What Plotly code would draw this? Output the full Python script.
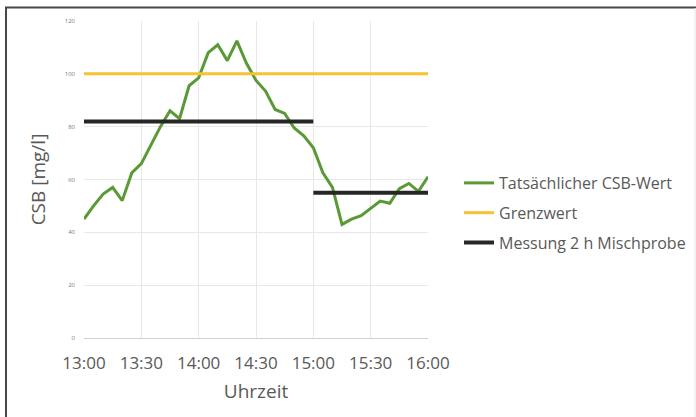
import plotly.graph_objects as go

times = ["13:00", "13:05", "13:10", "13:15", "13:20", "13:25", "13:30", "13:35", "13:40",
         "13:45", "13:50", "13:55", "14:00", "14:05", "14:10", "14:15", "14:20", "14:25",
         "14:30", "14:35", "14:40", "14:45", "14:50", "14:55", "15:00", "15:05", "15:10",
         "15:15", "15:20", "15:25", "15:30", "15:35", "15:40", "15:45", "15:50", "15:55", "16:00"]
csb_actual = [45, 50, 54.5, 57, 52, 62.5, 66, 73, 80,
              86, 83, 95.5, 98.5, 108, 111, 105, 112.5, 104,
              97.5, 93.5, 86.5, 85, 79.5, 76.5, 72, 62.5, 57,
              43, 45, 46.3, 49, 51.8, 51, 56.5, 58.5, 55.5, 61]
limit_times = ["13:00", "16:00"]
limit_values = [100, 100]
sample_times = ["13:00", "15:00", None, "15:00", "16:00"]
sample_values = [82, 82, None, 55, 55]
x_ticks = ["13:00", "13:30", "14:00", "14:30", "15:00", "15:30", "16:00"]
y_ticks = [0, 20, 40, 60, 80, 100, 120]

def ts(t):
    return None if t is None else "2020-01-01 " + t + ":00"

fig = go.Figure()
fig.add_trace(go.Scatter(x=[ts(t) for t in times], y=csb_actual, mode="lines",
                         name="Tatsächlicher CSB-Wert", line=dict(color="#5a9a36", width=3),
                         legendgroup="a"))
fig.add_trace(go.Scatter(x=[ts(t) for t in limit_times], y=limit_values, mode="lines",
                         name="Grenzwert", line=dict(color="#f7c134", width=3),
                         legendgroup="b"))
fig.add_trace(go.Scatter(x=[ts(t) for t in sample_times], y=sample_values, mode="lines",
                         name="Messung 2 h Mischprobe", line=dict(color="#262626", width=4),
                         connectgaps=False, legendgroup="c"))

L, R, T, B = 84, 268, 21, 79
W, H = 696, 417
pw, ph = W - L - R, H - T - B

def px(x):
    return (x - L) / pw

def py(y):
    return (H - B - y) / ph

shapes = [
    dict(type="line", xref="paper", yref="paper", x0=px(5), x1=px(696), y0=py(7.5), y1=py(7.5),
         line=dict(color="#474747", width=2)),
    dict(type="line", xref="paper", yref="paper", x0=px(6), x1=px(6), y0=py(7), y1=py(420),
         line=dict(color="#474747", width=2)),
    dict(type="line", xref="paper", yref="paper", x0=px(695), x1=px(695), y0=py(8), y1=py(420),
         line=dict(color="#e6e6e6", width=1)),
]

FONT = "Open Sans, Lato, sans-serif"

fig.update_layout(
    width=W, height=H,
    margin=dict(l=L, r=R, t=T, b=B, autoexpand=False),
    paper_bgcolor="white", plot_bgcolor="white",
    font=dict(family=FONT, color="#595959"),
    showlegend=True,
    legend=dict(x=px(459), y=py(213), xanchor="left", yanchor="middle",
                font=dict(size=16, color="#595959", family=FONT), traceorder="grouped",
                tracegroupgap=6, itemwidth=30, bgcolor="rgba(0,0,0,0)"),
    shapes=shapes,
    xaxis=dict(type="date", range=[ts("13:00"), ts("16:00")],
               tickvals=[ts(t) for t in x_ticks], ticktext=x_ticks,
               showgrid=True, gridcolor="#e8e8e8", gridwidth=1,
               showline=False, zeroline=False, ticks="", ticklabelstandoff=13,
               tickfont=dict(size=17, color="#595959", family=FONT),
               title=dict(text="Uhrzeit", font=dict(size=19, color="#595959", family=FONT), standoff=11)),
    yaxis=dict(range=[0, 120], tickvals=y_ticks,
               showgrid=True, gridcolor="#e8e8e8", gridwidth=1,
               zeroline=True, zerolinecolor="#d0d0d0", zerolinewidth=1,
               showline=False, ticks="", ticklabelstandoff=8,
               tickfont=dict(size=6, color="#777777", family=FONT),
               title=dict(text="CSB [mg/l]", font=dict(size=19, color="#595959", family=FONT), standoff=14)),
)

fig.write_html("out.html", config={"displayModeBar": False},
               post_script="document.body.style.margin='0';document.body.style.overflow='hidden';")
